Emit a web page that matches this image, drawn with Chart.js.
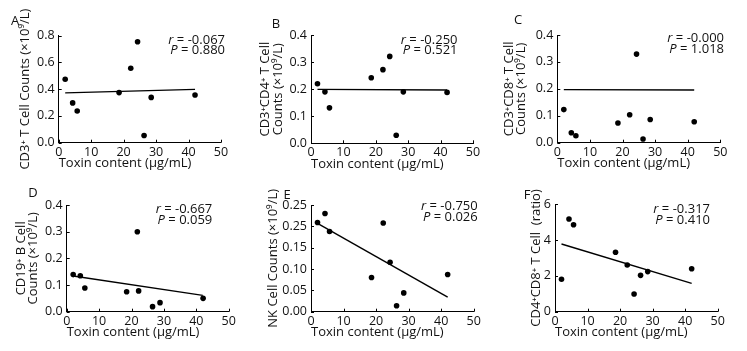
<!DOCTYPE html>
<html>
<head>
<meta charset="utf-8">
<script src="https://cdn.jsdelivr.net/npm/chart.js@4.4.1/dist/chart.umd.min.js"></script>
<style>
  html, body { margin: 0; padding: 0; background: #fff; }
  #wrap { position: relative; width: 747px; height: 351px; }
  #wrap canvas { position: absolute; left: 0; top: 0; }
</style>
</head>
<body>
<div id="wrap"></div>
<script>
// toxin content of the samples (x), same for every panel except D's high point
const toxin  = [2.0, 4.3, 5.7, 18.6, 22.2, 24.3, 26.3, 28.5, 42.0];
const toxinD = [2.0, 4.2, 5.6, 18.5, 22.2, 21.8, 26.5, 28.8, 42.1];
const xTicks = ['0', '10', '20', '30', '40', '50'];

const cd3    = [0.474, 0.297, 0.237, 0.374, 0.556, 0.753, 0.054, 0.338, 0.356];
const cd3cd4 = [0.220, 0.190, 0.131, 0.242, 0.272, 0.321, 0.030, 0.190, 0.188];
const cd3cd8 = [0.123, 0.037, 0.026, 0.073, 0.104, 0.329, 0.014, 0.086, 0.078];
const cd19   = [0.139, 0.135, 0.089, 0.075, 0.078, 0.300, 0.019, 0.034, 0.050];
const nk     = [0.209, 0.230, 0.188, 0.080, 0.208, 0.116, 0.014, 0.044, 0.087];
const ratio  = [1.81, 5.18, 4.86, 3.32, 2.61, 0.99, 2.03, 2.24, 2.40];

// fitted lines (end points)
const fitX = [2, 42];
const fitA = [0.372, 0.398];
const fitB = [0.199, 0.197];
const fitC = [0.197, 0.196];
const fitD = [0.134, 0.061];
const fitE = [0.207, 0.034];
const fitF = [3.78, 1.58];

// y tick labels
const yTicksA = ['0.0', '0.2', '0.4', '0.6', '0.8'];
const yTicksB = ['0.0', '0.1', '0.2', '0.3', '0.4'];
const yTicksE = ['0.00', '0.05', '0.10', '0.15', '0.25', '0.25'];
const yTicksF = ['0', '2', '4', '6'];

const stats = [['-0.067', '0.880'], ['-0.250', '0.521'], ['-0.000', '1.018'],
               ['-0.667', '0.059'], ['-0.750', '0.026'], ['-0.317', '0.410']];

const FONT = "'Open Sans', 'DejaVu Sans', sans-serif";
const INK = '#111';

// layout of each panel: chart area box, y-axis box width, letter and stats position
const panels = [
  { letter: 'A', x: toxin, y: cd3, fit: fitA, max: 0.8, step: 0.2, ticks: yTicksA,
    title: 'CD3\u207A T Cell Counts (\u00D710\u2079/L)',
    area: [58.7, 35.5, 221, 142.7], w: 40, lp: [15, 21], sp: [225, 40, 50.7] },
  { letter: 'B', x: toxin, y: cd3cd4, fit: fitB, max: 0.4, step: 0.1, ticks: yTicksB,
    title: ['CD3\u207ACD4\u207A T Cell', 'Counts (\u00D710\u2079/L)'],
    area: [311, 35, 473, 143.3], w: 51.6, lp: [276, 24], sp: [457.5, 40, 50.7] },
  { letter: 'C', x: toxin, y: cd3cd8, fit: fitC, max: 0.4, step: 0.1, ticks: yTicksB,
    title: ['CD3\u207ACD8\u207A T Cell', 'Counts (\u00D710\u2079/L)'],
    area: [557.3, 35, 720.3, 142.7], w: 54.6, lp: [518, 20], sp: [724, 38.3, 49.3] },
  { letter: 'D', x: toxinD, y: cd19, fit: fitD, max: 0.4, step: 0.1, ticks: yTicksB,
    title: ['CD19\u207A B Cell', 'Counts (\u00D710\u2079/L)'],
    area: [66.7, 205, 228.7, 311.7], w: 52, lp: [33, 193], sp: [212.3, 209.3, 220] },
  { letter: 'E', x: toxin, y: nk, fit: fitE, max: 0.25, step: 0.05, ticks: yTicksE,
    title: 'NK Cell Counts (\u00D710\u2079/L)',
    area: [311, 205, 473.7, 311.7], w: 44, lp: [287, 195], sp: [477.7, 206, 217.7] },
  { letter: 'F', x: toxin, y: ratio, fit: fitF, max: 6, step: 2, ticks: yTicksF,
    title: 'CD4\u207ACD8\u207A T Cell  (ratio)',
    area: [555, 204.3, 717.7, 311.7], w: 24.6, lp: [527, 195], sp: [710, 209.3, 220] }
];

const X_BOX = 28.7;

// short tick marks pointing into the plot
const inwardTicks = {
  id: 'inwardTicks',
  afterDatasetsDraw(chart) {
    const { ctx, chartArea: { left, bottom }, scales: { x, y } } = chart;
    ctx.save();
    ctx.strokeStyle = '#000';
    ctx.lineWidth = 1;
    ctx.beginPath();
    x.ticks.forEach((t, i) => {
      const px = Math.round(x.getPixelForTick(i)) + 0.5;
      ctx.moveTo(px, bottom);
      ctx.lineTo(px, bottom - 3);
    });
    y.ticks.forEach((t, i) => {
      const py = Math.round(y.getPixelForTick(i)) + 0.5;
      ctx.moveTo(left, py);
      ctx.lineTo(left + 3, py);
    });
    ctx.stroke();
    ctx.restore();
  }
};

// panel letter and r / P text
const panelText = {
  id: 'panelText',
  afterDraw(chart, args, opts) {
    const { ctx } = chart;
    ctx.save();
    ctx.fillStyle = INK;
    ctx.textBaseline = 'middle';
    ctx.textAlign = 'center';
    ctx.font = '13px ' + FONT;
    ctx.fillText(opts.letter, opts.lp[0], opts.lp[1]);

    const [xr, y1, y2] = opts.sp;
    [['r', ' = ' + opts.stat[0], y1], ['P', ' = ' + opts.stat[1], y2]].forEach(([sym, rest, yy]) => {
      ctx.font = '13px ' + FONT;
      ctx.textAlign = 'right';
      ctx.fillText(rest, xr, yy);
      const wRest = ctx.measureText(rest).width;
      ctx.font = 'italic 13px ' + FONT;
      ctx.fillText(sym, xr - wRest, yy);
    });
    ctx.restore();
  }
};

const wrap = document.getElementById('wrap');

panels.forEach((p, k) => {
  const cv = document.createElement('canvas');
  cv.width = 747;
  cv.height = 351;
  wrap.appendChild(cv);

  const [l, t, r, b] = p.area;
  const points = p.x.map((xv, i) => ({ x: xv, y: p.y[i] }));
  const line = fitX.map((xv, i) => ({ x: xv, y: p.fit[i] }));

  new Chart(cv, {
    type: 'scatter',
    data: {
      datasets: [
        { data: line, showLine: true, borderColor: '#000', borderWidth: 1.4,
          pointRadius: 0, fill: false },
        { data: points, backgroundColor: '#000', borderColor: '#000',
          pointRadius: 2.8, borderWidth: 0 }
      ]
    },
    options: {
      responsive: false,
      animation: false,
      devicePixelRatio: 1,
      layout: { padding: { left: l - p.w, top: t, right: 747 - r, bottom: 351 - b - X_BOX } },
      plugins: {
        legend: { display: false },
        tooltip: { enabled: false },
        panelText: { letter: p.letter, lp: p.lp, sp: p.sp, stat: stats[k] }
      },
      scales: {
        x: {
          type: 'linear', min: 0, max: 50,
          grid: { display: false, drawTicks: false },
          border: { display: true, color: '#000', width: 1 },
          ticks: { stepSize: 10, padding: 2, color: INK, font: { family: FONT, size: 12.5 },
                   callback: (v, i) => xTicks[i] },
          title: { display: true, text: 'Toxin content (\u00B5g/mL)', align: 'start',
                   color: INK, padding: 0, font: { family: FONT, size: 13 } },
          afterFit(s) { s.height = X_BOX; s.paddingLeft = 0; s.paddingRight = 0; }
        },
        y: {
          type: 'linear', min: 0, max: p.max,
          grid: { display: false, drawTicks: false },
          border: { display: true, color: '#000', width: 1 },
          ticks: { stepSize: p.step, padding: 4, color: INK, font: { family: FONT, size: 12.5 },
                   callback: (v, i) => p.ticks[i] },
          title: { display: true, text: p.title, color: INK, padding: 0,
                   font: { family: FONT, size: 13, lineHeight: 0.97 } },
          afterFit(s) { s.width = p.w; s.paddingTop = 0; s.paddingBottom = 0; }
        }
      }
    },
    plugins: [inwardTicks, panelText]
  });
});
</script>
</body>
</html>
